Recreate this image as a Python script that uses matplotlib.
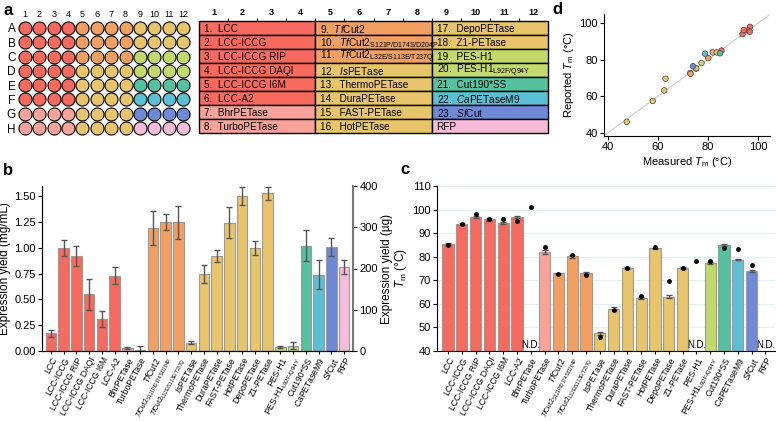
import numpy as np
import matplotlib
matplotlib.use("Agg")
import matplotlib.pyplot as plt
from matplotlib.patches import Rectangle

plt.rcParams['font.family'] = ['Liberation Sans', 'DejaVu Sans']
plt.rcParams['mathtext.fontset'] = 'custom'
plt.rcParams['mathtext.rm'] = 'Liberation Sans'
plt.rcParams['mathtext.it'] = 'Liberation Sans:italic'
plt.rcParams['mathtext.bf'] = 'Liberation Sans:bold'

# ---- data ----
enzymes = ["LCC", "LCC-ICCG", "LCC-ICCG RIP", "LCC-ICCG DAQI", "LCC-ICCG I6M", "LCC-A2",
           "BhrPETase", "TurboPETase", r"$\it{Tf}$Cut2",
           r"$\it{Tf}$Cut2$_{\rm S121P/D174S/D204P}$", r"$\it{Tf}$Cut2$_{\rm L32E/S113E/T237Q}$",
           r"$\it{Is}$PETase", "ThermoPETase", "DuraPETase", "FAST-PETase", "HotPETase",
           "DepoPETase", "Z1-PETase", "PES-H1", r"PES-H1$_{\rm L92F/Q94Y}$", "Cut190*SS",
           r"$\it{Ca}$PETaseM9", r"$\it{Sf}$Cut", "RFP"]
group_of = [0, 0, 0, 0, 0, 0, 1, 1, 2, 2, 2, 3, 3, 3, 3, 3, 3, 3, 4, 4, 5, 6, 7, 8]
palette = ["#F8695E", "#F9A39B", "#F2A062", "#E8C46A", "#C3D96B",
           "#55C19E", "#5BC0D6", "#6E8AD6", "#F6BBD8"]

# panel b: expression yield (mg/mL)
yield_mg = [0.17, 1.00, 0.92, 0.55, 0.31, 0.73, 0.027, 0.012, 1.19, 1.25, 1.25, 0.08,
            0.745, 0.92, 1.245, 1.505, 1.00, 1.53, 0.037, 0.053, 1.02, 0.74, 1.01, 0.815]
yield_err = [0.03, 0.08, 0.10, 0.15, 0.08, 0.085, 0.01, 0.04, 0.165, 0.075, 0.16, 0.015,
             0.09, 0.06, 0.15, 0.09, 0.07, 0.065, 0.01, 0.035, 0.15, 0.14, 0.085, 0.07]

# panel c/d: melting temperatures (None = not determined / not reported)
tm_measured = [85.4, 93.8, 96.8, 95.9, 94.3, 96.7, None, 81.9, 72.9, 80.1, 73.0, 47.5,
               57.9, 75.2, 62.5, 83.5, 63.0, 75.3, None, 77.4, 84.8, 78.8, 74.0, None]
tm_err = [0.4, 0.3, 0.4, 0.6, 0.5, 0.4, 0, 0.8, 0.3, 0.6, 0.5, 0.7,
          0.6, 0.3, 0.4, 0.3, 0.6, 0.3, 0, 0.3, 0.4, 0.3, 0.5, 0]
tm_reported = [85.0, 94.0, 98.0, 96.0, 96.2, 95.3, 101.0, 84.0, 72.7, 80.8, 72.3, 46.0,
               57.4, 75.1, 63.2, 84.0, 69.6, 75.3, 78.0, 78.2, 83.5, 83.3, 76.4, None]

plate_rows = list("ABCDEFGH")
plate_cols = list(range(1, 13))

colors = [palette[g] for g in group_of]
x = np.arange(len(enzymes))

fig = plt.figure(figsize=(7.76, 4.21), dpi=100)
W, H = 776, 421


def px_axes(x0, y0, x1, y1):
    return fig.add_axes([x0 / W, 1 - y1 / H, (x1 - x0) / W, (y1 - y0) / H])


def enzyme_ticks(ax):
    ax.set_xticks(x)
    ax.set_xticklabels(enzymes, rotation=62, ha="right", rotation_mode="anchor", fontsize=6.2)
    # the two long mutant names get a smaller font so they stay on the page
    for lbl in ax.get_xticklabels():
        if "S121P" in lbl.get_text() or "L32E" in lbl.get_text():
            lbl.set_fontsize(4.9)
    ax.tick_params(axis="x", length=2, pad=1.5)


# ---- panel a: plate ----
axp = px_axes(17.8, 20.8, 190.2, 135.2)
for ci, c in enumerate(plate_cols):
    for ri in range(len(plate_rows)):
        idx = (ci // 4) * 8 + ri
        axp.scatter(c, ri, s=88, color=colors[idx], edgecolor="black", linewidth=0.8, zorder=3)
axp.set_xlim(0.5, 12.5)
axp.set_ylim(7.5, -0.5)
axp.set_xticks(plate_cols)
axp.set_xticklabels([str(c) for c in plate_cols], fontsize=6.5)
axp.xaxis.tick_top()
axp.set_yticks(range(8))
axp.set_yticklabels(plate_rows, fontsize=8.5)
axp.tick_params(length=0, pad=1.5)
for s in axp.spines.values():
    s.set_visible(False)

# ---- panel a: table ----
axt = px_axes(199, 21, 548, 133)
axt.set_xlim(0, 12)
axt.set_ylim(8, 0)
for i, name in enumerate(enzymes):
    g, r = i // 8, i % 8
    axt.add_patch(Rectangle((g * 4, r), 4, 1, facecolor=colors[i], edgecolor="black",
                            linewidth=1.0, clip_on=False))
    label = name if name == "RFP" else f"{i + 1}.  {name}"
    axt.text(g * 4 + 0.17, r + 0.55, label, fontsize=7.2, va="center", ha="left")
axt.xaxis.tick_top()
axt.set_xticks(np.arange(12) + 0.5)
axt.set_xticklabels([str(c) for c in plate_cols], fontsize=6.5, fontweight="bold")
axt.set_xticks(np.arange(1, 12), minor=True)
axt.tick_params(axis="x", which="major", length=0, pad=3)
axt.tick_params(axis="x", which="minor", length=2.5, width=0.8)
axt.set_yticks([])
for s in axt.spines.values():
    s.set_visible(False)

# ---- panel b: expression yield ----
axb = px_axes(42, 186, 353, 351)
axb.bar(x, yield_mg, width=0.82, color=colors, edgecolor="#9a9a9a", linewidth=0.8, zorder=2)
axb.errorbar(x, yield_mg, yerr=yield_err, fmt="none", ecolor="#555555", elinewidth=1,
             capsize=2, capthick=1, zorder=3)
axb.set_xlim(-0.7, 23.7)
axb.set_ylim(0, 1.6)
axb.set_yticks([0, 0.25, 0.5, 0.75, 1.0, 1.25, 1.5])
axb.set_yticklabels([f"{v:.2f}" for v in [0, 0.25, 0.5, 0.75, 1.0, 1.25, 1.5]])
axb.set_ylabel("Expression yield (mg/mL)", fontsize=8.5, labelpad=2)
enzyme_ticks(axb)
axb.tick_params(axis="y", labelsize=8, length=3, pad=1.5)
axb.spines["top"].set_visible(False)
axb.spines["right"].set_visible(False)
axb2 = axb.twinx()
axb2.set_ylim(0, 400)
axb2.set_yticks([0, 100, 200, 300, 400])
axb2.set_ylabel("Expression yield (µg)", fontsize=8.5, labelpad=2)
axb2.tick_params(axis="y", labelsize=8, length=3, pad=1.5)
axb2.spines["top"].set_visible(False)
axb2.spines["right"].set_color("#777777")
axb2.spines["right"].set_linewidth(1.5)

# ---- panel c: melting temperature ----
axc = px_axes(437, 186, 775, 351)
has_m = [i for i in x if tm_measured[i] is not None]
axc.bar([x[i] for i in has_m], [tm_measured[i] for i in has_m], width=0.82,
        color=[colors[i] for i in has_m], edgecolor="#9a9a9a", linewidth=0.8, zorder=2)
axc.errorbar([x[i] for i in has_m], [tm_measured[i] for i in has_m],
             yerr=[tm_err[i] for i in has_m], fmt="none", ecolor="#555555",
             elinewidth=1, capsize=2, capthick=1, zorder=3)
has_r = [i for i in x if tm_reported[i] is not None]
axc.scatter([x[i] for i in has_r], [tm_reported[i] for i in has_r], s=6, color="black", zorder=4)
for i in x:
    if tm_measured[i] is None:
        axc.text(i, 40.6, "N.D.", fontsize=7, ha="center", va="bottom")
axc.set_xlim(-0.8, 23.7)
axc.set_ylim(40, 110)
axc.set_yticks(range(40, 111, 10))
axc.yaxis.grid(True, color="#e3f1f5", linewidth=0.8, zorder=0)
axc.set_axisbelow(True)
axc.set_ylabel(r"$T_{\rm m}$ (°C)", fontsize=8.5, labelpad=2)
enzyme_ticks(axc)
axc.tick_params(axis="y", labelsize=8, length=3, pad=1.5)
axc.spines["top"].set_visible(False)
axc.spines["right"].set_visible(False)

# ---- panel d: measured vs reported ----
axd = px_axes(604, 14, 770, 135.7)
both = [i for i in x if tm_measured[i] is not None and tm_reported[i] is not None]
lim = (38.4, 104.8)
axd.plot(lim, lim, color="#cccccc", linewidth=0.8, zorder=1)
axd.scatter([tm_measured[i] for i in both], [tm_reported[i] for i in both],
            s=16, c=[colors[i] for i in both], edgecolor="#444444", linewidth=0.5, zorder=3)
axd.set_xlim(lim)
axd.set_ylim(38.4, 105)
axd.set_xticks([40, 60, 80, 100])
axd.set_yticks([40, 60, 80, 100])
axd.set_xlabel(r"Measured $T_{\rm m}$ (°C)", fontsize=8, labelpad=2)
axd.set_ylabel(r"Reported $T_{\rm m}$ (°C)", fontsize=8, labelpad=2)
axd.tick_params(labelsize=8, length=3, pad=1.5)
axd.spines["top"].set_visible(False)
axd.spines["right"].set_visible(False)

# panel letters
for letter, (lx, ly) in {"a": (3, 3), "b": (3, 163), "c": (400, 162), "d": (552, 2)}.items():
    fig.text(lx / W, 1 - ly / H, letter, fontsize=12, fontweight="bold", va="top", ha="left")

fig.savefig("out.png", dpi=100)
